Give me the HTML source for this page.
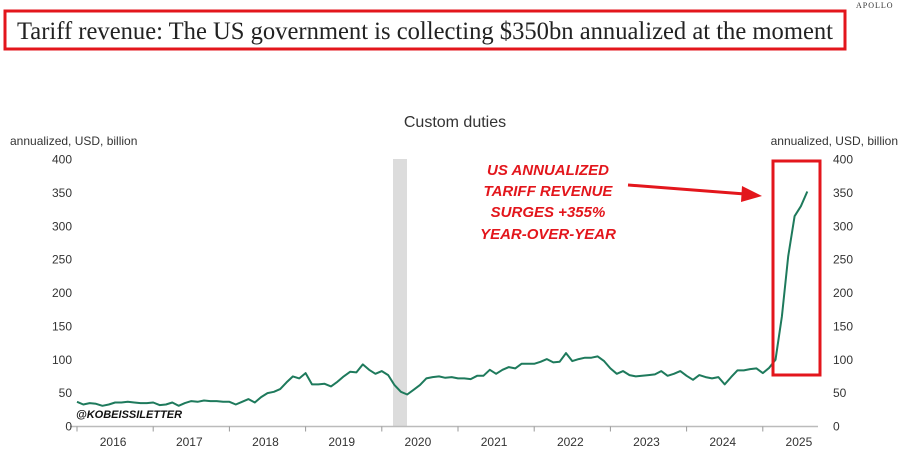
<!DOCTYPE html>
<html><head><meta charset="utf-8"><style>
body{margin:0;background:#fff;}
svg{display:block;}
</style></head><body>
<svg width="900" height="462" viewBox="0 0 900 462" xmlns="http://www.w3.org/2000/svg">
<rect x="0" y="0" width="900" height="462" fill="#fff"/>
<text x="856" y="8" font-family="Liberation Serif, serif" font-size="8" fill="#333" letter-spacing="1">APOLLO</text>
<rect x="5" y="11" width="840" height="38" fill="none" stroke="#e3161c" stroke-width="3"/>
<text x="17" y="39" font-family="Liberation Serif, serif" font-size="25" fill="#222" textLength="816" lengthAdjust="spacingAndGlyphs">Tariff revenue: The US government is collecting $350bn annualized at the moment</text>
<text x="455" y="127" text-anchor="middle" font-family="Liberation Sans, sans-serif" font-size="16" fill="#333">Custom duties</text>
<text x="10" y="145" font-family="Liberation Sans, sans-serif" font-size="12" fill="#333">annualized, USD, billion</text>
<text x="898" y="145" text-anchor="end" font-family="Liberation Sans, sans-serif" font-size="12" fill="#333">annualized, USD, billion</text>
<rect x="393" y="159" width="14" height="267" fill="#dcdcdc"/>
<g id="axes"></g>
<path id="line" fill="none" stroke="#1e7a5c" stroke-width="2" stroke-linejoin="round"/>
<text x="548" y="175" text-anchor="middle" font-family="Liberation Sans, sans-serif" font-size="15" font-weight="bold" font-style="italic" fill="#e3161c">US ANNUALIZED</text>
<text x="548" y="196" text-anchor="middle" font-family="Liberation Sans, sans-serif" font-size="15" font-weight="bold" font-style="italic" fill="#e3161c">TARIFF REVENUE</text>
<text x="548" y="217" text-anchor="middle" font-family="Liberation Sans, sans-serif" font-size="15" font-weight="bold" font-style="italic" fill="#e3161c">SURGES +355%</text>
<text x="548" y="239" text-anchor="middle" font-family="Liberation Sans, sans-serif" font-size="15" font-weight="bold" font-style="italic" fill="#e3161c">YEAR-OVER-YEAR</text>
<line x1="628" y1="185" x2="745" y2="194" stroke="#e3161c" stroke-width="3"/>
<polygon points="762,196 742,186 741,202" fill="#e3161c"/>
<rect x="773" y="161" width="47" height="214" fill="none" stroke="#e3161c" stroke-width="3"/>
<text x="76" y="418" font-family="Liberation Sans, sans-serif" font-size="11" font-weight="bold" font-style="italic" fill="#111">@KOBEISSILETTER</text>
</svg>
<script>
const years=['2016','2017','2018','2019','2020','2021','2022','2023','2024','2025'];
const yTicks=[0,50,100,150,200,250,300,350,400];
const v2016=[37,33,35,34,31,33,36,36,37,36,35,35];
const v2017=[36,32,33,36,31,35,38,37,39,38,38,37];
const v2018=[37,33,37,41,36,44,50,52,56,66,75,72];
const v2019=[80,63,63,64,60,67,75,82,81,93,85,79];
const v2020=[83,77,62,52,48,55,62,72,74,75,73,74];
const v2021=[72,72,71,76,76,85,79,85,89,87,94,94];
const v2022=[94,97,101,96,97,110,98,101,103,103,105,98];
const v2023=[87,79,83,77,75,76,77,78,83,76,79,83];
const v2024=[76,70,77,74,72,74,63,74,84,84,86,87];
const v2025=[80,88,100,165,255,315,330,352];
const values=[].concat(v2016,v2017,v2018,v2019,v2020,v2021,v2022,v2023,v2024,v2025);
const NS='http://www.w3.org/2000/svg';
const x0=77,yearW=76.2,y0=426.5,yScale=267/400;
const xm=i=>x0+i*yearW/12;
const yv=v=>y0-v*yScale;
const ax=document.getElementById('axes');
function mk(tag,attrs){const e=document.createElementNS(NS,tag);for(const k in attrs)e.setAttribute(k,attrs[k]);ax.appendChild(e);return e;}
const base=mk('line',{x1:70,x2:818,y1:y0,y2:y0,stroke:'#bbb','stroke-width':1.5});


years.forEach((yr,i)=>{
  const tk=mk('line',{x1:x0+i*yearW,x2:x0+i*yearW,y1:y0,y2:y0+5,stroke:'#999','stroke-width':1});
  
  
  const t=mk('text',{x:x0+i*yearW+yearW/2-2,y:446,'text-anchor':'middle','font-family':'Liberation Sans, sans-serif','font-size':12,fill:'#333'});
  t.textContent=yr;
  
  
});
yTicks.forEach(v=>{
  const l=mk('text',{x:72,y:yv(v)+4,'text-anchor':'end','font-family':'Liberation Sans, sans-serif','font-size':12,fill:'#333'});
  l.textContent=v;
  
  
  const r=mk('text',{x:833,y:yv(v)+4,'text-anchor':'start','font-family':'Liberation Sans, sans-serif','font-size':12,fill:'#333'});
  r.textContent=v;
  
  
});
document.getElementById('line').setAttribute('d',values.map((v,i)=>(i?'L':'M')+xm(i).toFixed(1)+','+yv(v).toFixed(1)).join(''));
</script>
</body></html>
